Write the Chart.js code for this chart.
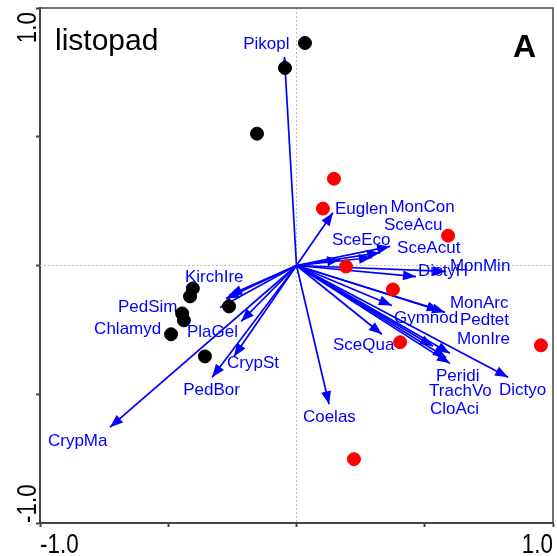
<!DOCTYPE html>
<html>
<head>
<meta charset="utf-8">
<script src="https://cdn.jsdelivr.net/npm/chart.js@4.4.0/dist/chart.umd.min.js"></script>
<style>
  body { margin: 0; background: #fff; }
  canvas { display: block; }
</style>
</head>
<body>
<canvas id="myChart" width="557" height="556"></canvas>
<script>
/* SAMPLES */
const blackX = [0.033, -0.045, -0.154, -0.404, -0.415, -0.263, -0.446, -0.439, -0.489, -0.357];
const blackY = [0.864, 0.767, 0.512, -0.089, -0.120, -0.159, -0.186, -0.213, -0.267, -0.353];
const redX = [0.146, 0.103, 0.591, 0.193, 0.376, 0.404, 0.953, 0.224];
const redY = [0.337, 0.221, 0.116, -0.004, -0.093, -0.298, -0.310, -0.752];

/* SPECIES ARROWS */
const species = ['Pikopl', 'Euglen', 'MonCon', 'SceAcu', 'SceAcut', 'SceEco', 'DictyH', 'MonMin',
  'Gymnod', 'MonArc', 'Pedtet', 'SceQua', 'MonIre', 'Peridi', 'CloAci', 'TrachVo', 'Dictyo', 'Coelas',
  'KirchIre', 'Chlamyd', 'PedSim', 'PlaGel', 'CrypSt', 'PedBor', 'CrypMa'];
const arrowX = [-0.047, 0.142, 0.365, 0.326, 0.294, 0.170, 0.466, 0.583,
  0.372, 0.579, 0.559, 0.333, 0.532, 0.598, 0.583, 0.598, 0.825, 0.127,
  -0.263, -0.275, -0.298, -0.216, -0.244, -0.329, -0.727];
const arrowY = [0.810, 0.205, 0.074, 0.050, 0.031, 0.023, -0.043, -0.023,
  -0.155, -0.182, -0.174, -0.267, -0.314, -0.341, -0.357, -0.380, -0.434, -0.539,
  -0.116, -0.128, -0.163, -0.217, -0.353, -0.434, -0.628];
/* where each name is written (left edge, middle) */
const labelX = [-0.208, 0.150, 0.366, 0.341, 0.392, 0.138, 0.474, 0.598,
  0.380, 0.598, 0.637, 0.142, 0.626, 0.544, 0.520, 0.517, 0.789, 0.025,
  -0.435, -0.789, -0.696, -0.427, -0.271, -0.442, -0.969];
const labelY = [0.860, 0.217, 0.225, 0.155, 0.066, 0.097, -0.023, -0.004,
  -0.205, -0.147, -0.213, -0.310, -0.287, -0.430, -0.558, -0.488, -0.484, -0.589,
  -0.047, -0.248, -0.163, -0.260, -0.380, -0.484, -0.682];

const tickLabels = ['-1.0', '1.0'];
const title = 'listopad';
const panel = 'A';

const BLUE = '#0000ff';
const AXIS = '#444444';

let toPoints = (xs, ys) => xs.map((x, i) => ({ x: x, y: ys[i] }));

let datasets = [
  { label: 'black', data: toPoints(blackX, blackY), backgroundColor: '#000', borderColor: '#000',
    pointRadius: 6.5, pointHoverRadius: 6.5, order: 0 },
  { label: 'red', data: toPoints(redX, redY), backgroundColor: '#ff0000', borderColor: '#ff0000',
    pointRadius: 6.5, pointHoverRadius: 6.5, order: 0 }
];
species.forEach((name, i) => {
  datasets.push({
    label: name,
    isArrow: true,
    data: [{ x: 0, y: 0 }, { x: arrowX[i], y: arrowY[i] }],
    showLine: true,
    borderColor: BLUE,
    borderWidth: 1.7,
    pointRadius: 0,
    pointHoverRadius: 0,
    order: 1
  });
});

/* dotted zero lines, frame, names, tick labels */
const biplot = {
  id: 'biplot',
  beforeDatasetsDraw(chart) {
    const ctx = chart.ctx, a = chart.chartArea;
    const xs = chart.scales.x, ys = chart.scales.y;
    ctx.save();
    ctx.strokeStyle = '#bdbdbd';
    ctx.lineWidth = 1;
    ctx.setLineDash([2, 2]);
    ctx.beginPath();
    ctx.moveTo(xs.getPixelForValue(0), a.top);
    ctx.lineTo(xs.getPixelForValue(0), a.bottom);
    ctx.moveTo(a.left, ys.getPixelForValue(0));
    ctx.lineTo(a.right, ys.getPixelForValue(0));
    ctx.stroke();
    ctx.setLineDash([]);

    ctx.strokeStyle = AXIS;
    ctx.lineWidth = 1.5;
    ctx.beginPath();
    ctx.moveTo(a.left, a.top);
    ctx.lineTo(a.right, a.top);
    ctx.lineTo(a.right, a.bottom);
    ctx.stroke();

    ctx.fillStyle = BLUE;
    ctx.font = '17px "Liberation Sans", Arial, sans-serif';
    ctx.textAlign = 'left';
    ctx.textBaseline = 'middle';
    species.forEach((name, i) => {
      ctx.fillText(name, xs.getPixelForValue(labelX[i]), ys.getPixelForValue(labelY[i]));
    });
    ctx.restore();
  },
  afterDatasetDraw(chart, args) {
    const ds = chart.data.datasets[args.index];
    if (!ds.isArrow) return;
    const p0 = args.meta.data[0], p1 = args.meta.data[1];
    const ang = Math.atan2(p1.y - p0.y, p1.x - p0.x);
    const len = 13, half = 5;
    const ctx = chart.ctx;
    ctx.save();
    ctx.fillStyle = BLUE;
    ctx.translate(p1.x, p1.y);
    ctx.rotate(ang);
    ctx.beginPath();
    ctx.moveTo(0, 0);
    ctx.lineTo(-len, -half);
    ctx.lineTo(-len, half);
    ctx.closePath();
    ctx.fill();
    ctx.restore();
  },
  afterDraw(chart) {
    const ctx = chart.ctx, a = chart.chartArea;
    const xs = chart.scales.x, ys = chart.scales.y;
    ctx.save();
    ctx.fillStyle = '#000';
    ctx.font = '28px "Liberation Sans", Arial, sans-serif';
    ctx.textBaseline = 'alphabetic';

    // x tick labels, pulled inward
    ctx.save();
    ctx.translate(xs.getPixelForValue(-1), 553);
    ctx.scale(0.8, 1);
    ctx.textAlign = 'left';
    ctx.fillText(tickLabels[0], 0, 0);
    ctx.restore();
    ctx.save();
    ctx.translate(xs.getPixelForValue(1), 553);
    ctx.scale(0.8, 1);
    ctx.textAlign = 'right';
    ctx.fillText(tickLabels[1], 0, 0);
    ctx.restore();

    // y tick labels, rotated
    ctx.save();
    ctx.translate(36, ys.getPixelForValue(1) + 4);
    ctx.rotate(-Math.PI / 2);
    ctx.scale(0.8, 1);
    ctx.textAlign = 'right';
    ctx.fillText(tickLabels[1], 0, 0);
    ctx.restore();
    ctx.save();
    ctx.translate(36, ys.getPixelForValue(-1));
    ctx.rotate(-Math.PI / 2);
    ctx.scale(0.8, 1);
    ctx.textAlign = 'left';
    ctx.fillText(tickLabels[0], 0, 0);
    ctx.restore();

    ctx.font = '30px "Liberation Sans", Arial, sans-serif';
    ctx.textAlign = 'left';
    ctx.fillText(title, 55, 50);
    ctx.font = 'bold 32px "Liberation Sans", Arial, sans-serif';
    ctx.fillText(panel, 513, 57);
    ctx.restore();
  }
};

let axis = (size, horizontal) => ({
  type: 'linear',
  min: -1,
  max: 1,
  ticks: { display: false, stepSize: 0.5 },
  grid: { drawOnChartArea: false, drawTicks: true, tickLength: 4, tickColor: AXIS, tickWidth: 2 },
  border: { display: true, color: AXIS, width: 2 },
  afterFit: (scale) => { if (horizontal) scale.height = size; else scale.width = size; }
});

const chart = new Chart(document.getElementById('myChart'), {
  type: 'scatter',
  data: { datasets: datasets },
  options: {
    responsive: false,
    animation: false,
    devicePixelRatio: 1,
    layout: { autoPadding: false, padding: { top: 8, right: 4, left: 0, bottom: 0 } },
    plugins: { legend: { display: false }, tooltip: { enabled: false } },
    scales: {
      x: axis(33, true),
      y: axis(40, false)
    }
  },
  plugins: [biplot]
});
</script>
</body>
</html>
